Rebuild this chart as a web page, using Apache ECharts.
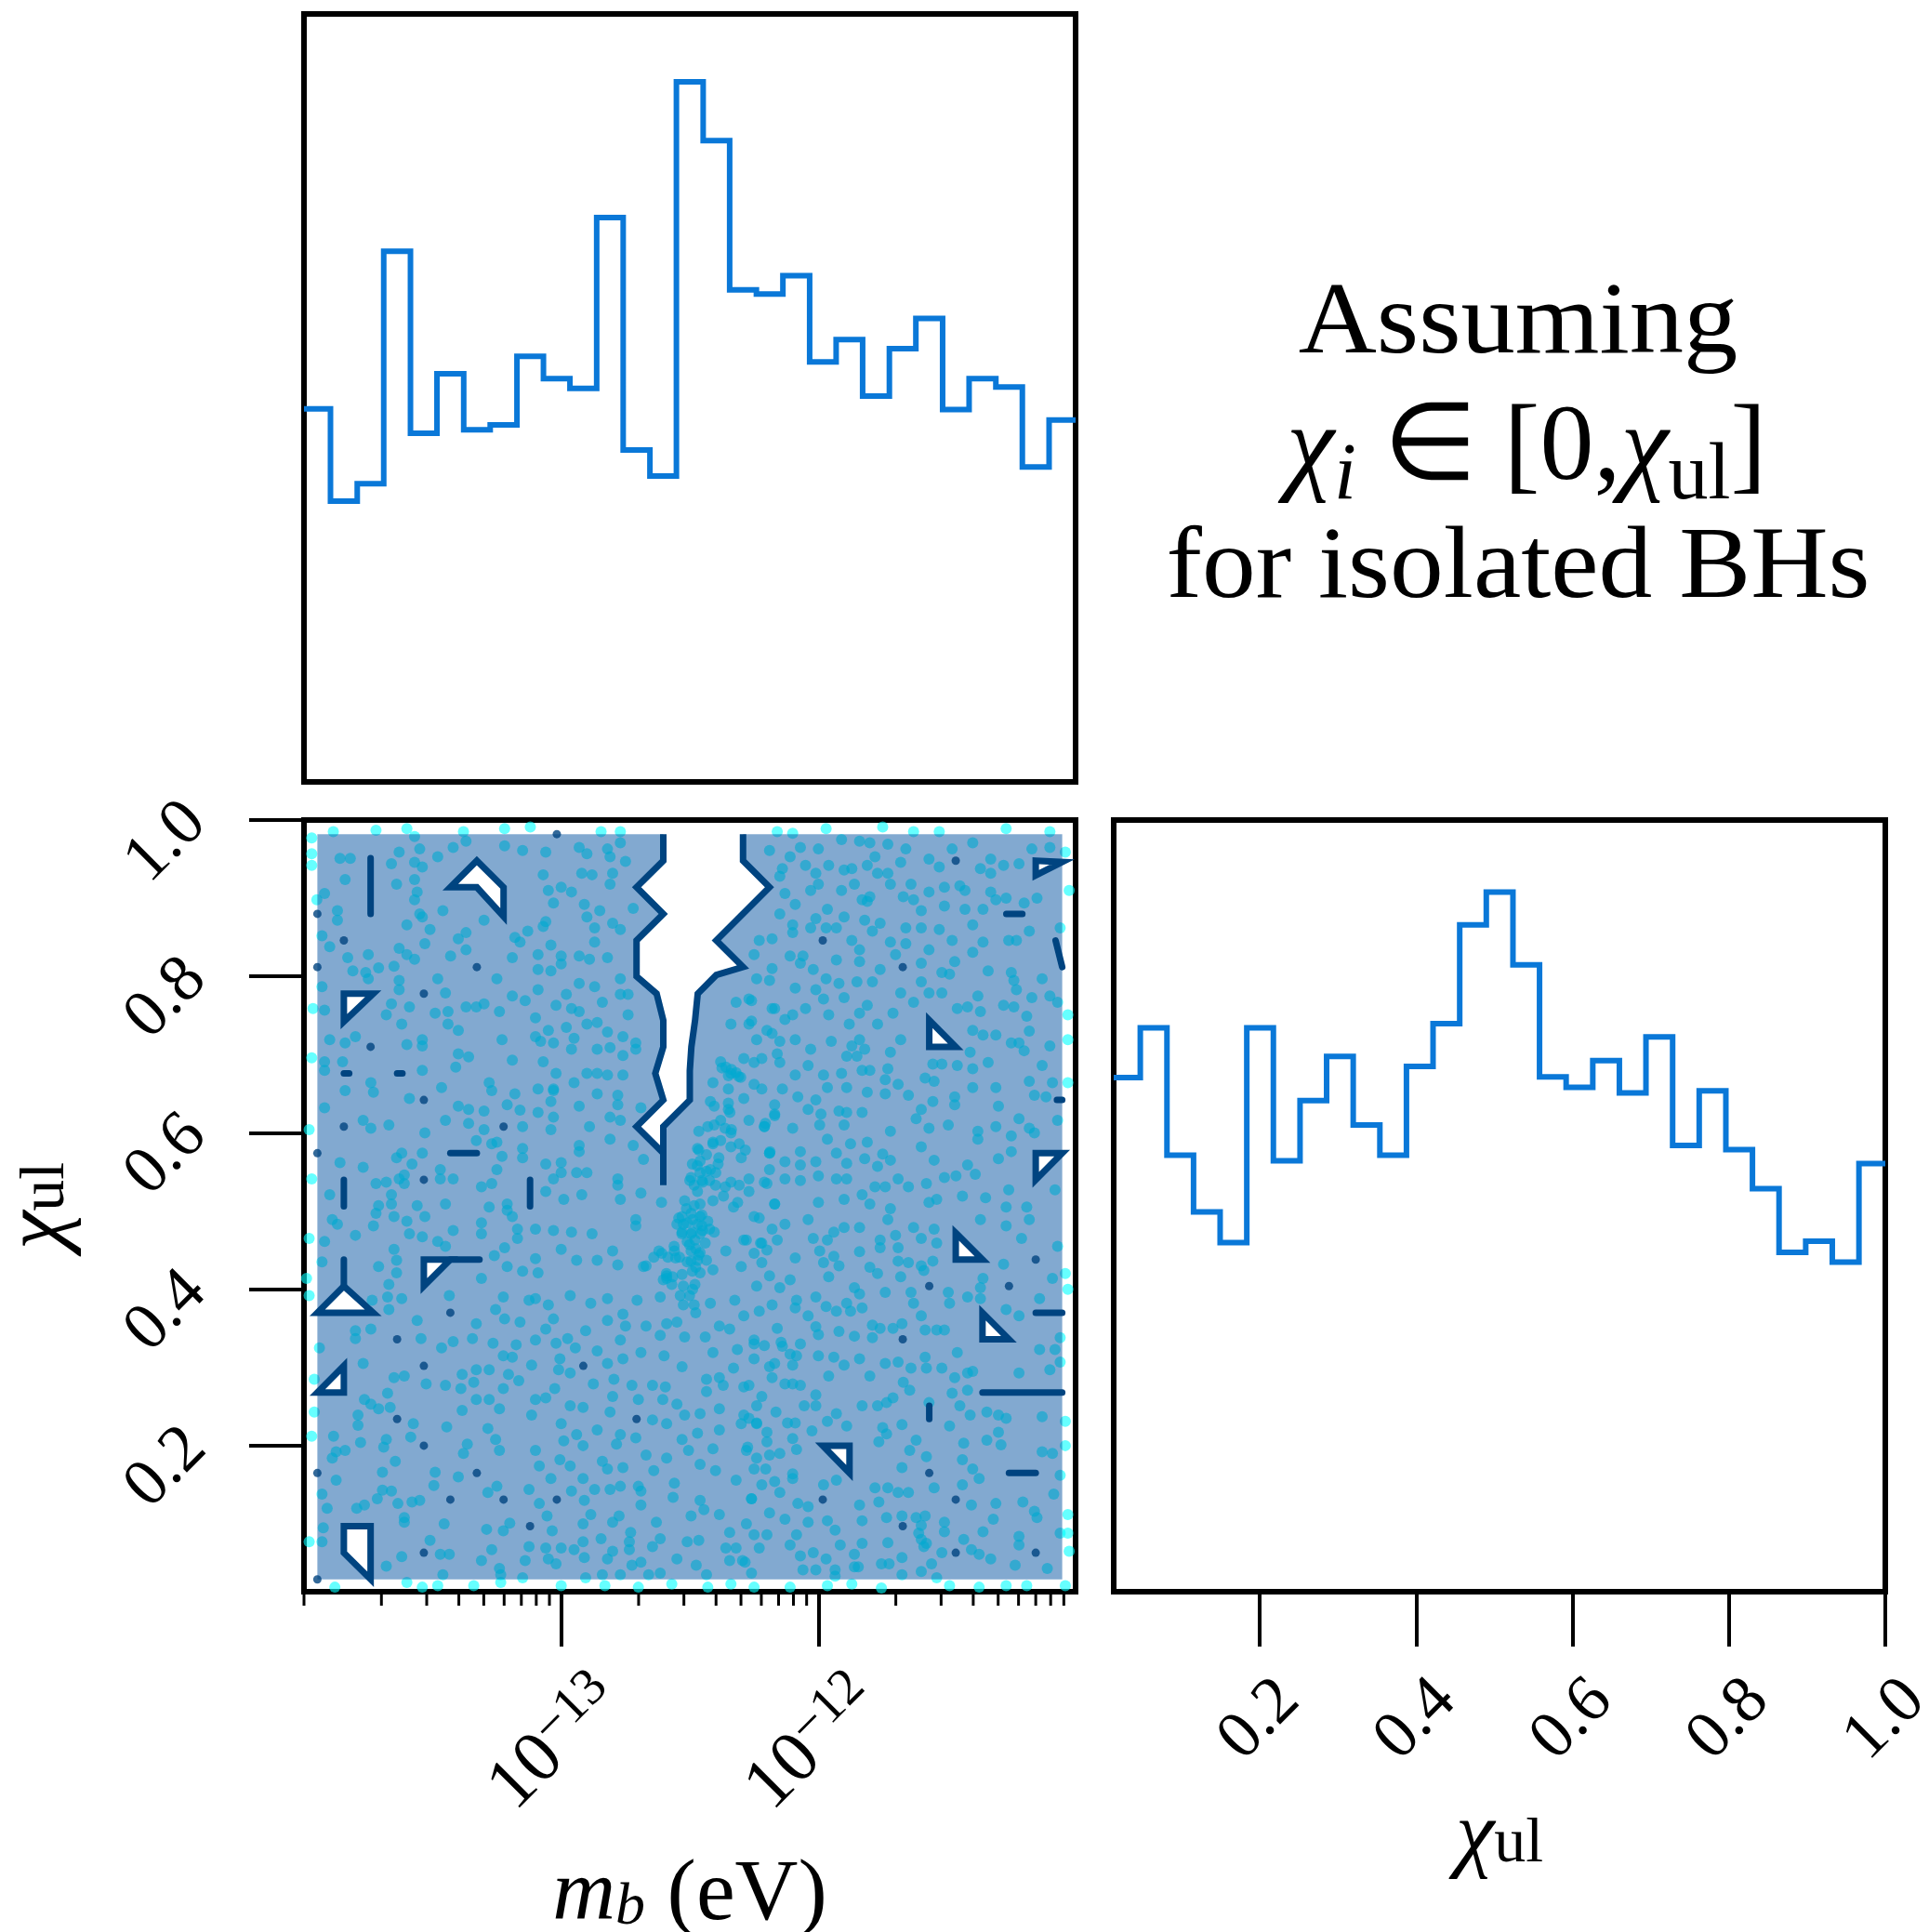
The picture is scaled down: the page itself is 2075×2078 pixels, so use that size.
<!DOCTYPE html>
<html><head><meta charset="utf-8">
<style>html,body{margin:0;background:#fff}#c{width:2075px;height:2078px}</style>
<script src="https://cdn.jsdelivr.net/npm/echarts@6/dist/echarts.min.js"></script>
</head><body><div id="c"></div>
<script>
const mbEdges=[-14,-13.897,-13.793,-13.69,-13.586,-13.483,-13.379,-13.276,-13.172,-13.069,-12.966,-12.862,-12.759,-12.655,-12.552,-12.448,-12.345,-12.241,-12.138,-12.034,-11.931,-11.828,-11.724,-11.621,-11.517,-11.414,-11.31,-11.207,-11.103,-11];
const mbHist=[.533,.401,.426,.758,.498,.583,.503,.510,.608,.576,.562,.806,.474,.437,1,.916,.703,.697,.723,.600,.632,.551,.619,.662,.532,.576,.564,.450,.517];
const chiEdges=[.0132,.0472,.0813,.1153,.1493,.1834,.2174,.2515,.2855,.3195,.3536,.3876,.4216,.4557,.4897,.5238,.5578,.5918,.6259,.6599,.6939,.728,.762,.7961,.8301,.8641,.8982,.9322,.9663,1];
const chiHist=[.735,.806,.624,.543,.499,.806,.616,.702,.765,.667,.624,.751,.812,.953,1,.896,.736,.721,.759,.713,.793,.638,.716,.632,.576,.485,.501,.471,.612];
const mbGrid=[-13.948,-13.845,-13.741,-13.638,-13.534,-13.431,-13.328,-13.224,-13.121,-13.017,-12.914,-12.810,-12.707,-12.603,-12.500,-12.397,-12.293,-12.190,-12.086,-11.983,-11.879,-11.776,-11.672,-11.569,-11.466,-11.362,-11.259,-11.155,-11.052];
const chiGrid=[.982,.948,.914,.880,.846,.812,.778,.744,.710,.676,.642,.608,.574,.540,.506,.472,.438,.404,.370,.336,.302,.268,.234,.200,.165,.131,.097,.063,.029];
const mbTicks=[1e-13,1e-12];
const mbMinorTicks=[1e-14,2e-14,3e-14,4e-14,5e-14,6e-14,7e-14,8e-14,9e-14,2e-13,3e-13,4e-13,5e-13,6e-13,7e-13,8e-13,9e-13,2e-12,3e-12,4e-12,5e-12,6e-12,7e-12,8e-12,9e-12];
const chiTicks=[.2,.4,.6,.8,1];
const filledRegion=[[0,0],[28,0],[28,28],[0,28]];
const notch=[[13,-0.15],[13,1],[12,2],[13,3],[12,4],[12,5.35],[12.75,6],[13,7],[13,8],[12.7,9],[13,10],[12,11],[13,12],[13,11],[14,10],[14,8.9],[14.06,8],[14.2,7],[14.3,6],[15,5.3],[16,5],[15,4],[17,2],[16,1],[16,-0.15]];
const notchEdge=[[13,0],[13,1],[12,2],[13,3],[12,4],[12,5.35],[12.75,6],[13,7],[13,8],[12.7,9],[13,10],[12,11],[13,12],[13,13.2],[13,11],[14,10],[14,8.9],[14.06,8],[14.2,7],[14.3,6],[15,5.3],[16,5],[15,4],[17,2],[16,1],[16,0]];
const holes=[
 [[6,1],[7,2],[7,3.1],[6,2],[5,2]],
 [[1,6],[2.1,6],[1,7.05]],
 [[4,16],[5,16],[4,17]],
 [[1,17],[2.1,18],[0,18]],
 [[1,20],[1,21],[0,21]],
 [[1,26],[2,26],[2,28],[1,27]],
 [[23,7],[24,8],[23,8]],
 [[27,12],[28,12],[27,13]],
 [[24,15],[25,16],[24,16]],
 [[25,18],[26,19],[25,19]],
 [[19,23],[20,23],[20,24]],
 [[27,1],[28,1.05],[27,1.55]]
];
const dashes=[
 [[2,.9],[2,3]],[[5,12],[6,12]],[[1,13],[1,14]],[[8,13],[8,14]],[[1,16],[1,17]],[[5,16],[6.1,16]],
 [[25.9,3],[26.5,3]],[[27.75,4],[28,5]],[[27.8,10],[28,10]],[[27,18],[28,18]],[[25,21],[28,21]],[[23,21.5],[23,22]],[[26,24],[27,24]],
 [[1,9],[1.2,9]],[[3,9],[3.2,9]]
];
const contourSpecks=[[0,3],[1,4],[0,5],[6,5],[4,6],[2,8],[4,10],[1,11],[7,11],[0,12],[4,13],[9,0],[5,18],[3,19],[4,20],[10,20],[3,22],[12,22],[4,23],[0,24],[6,24],[5,25],[7,25],[9,25],[8,26],[4,27],[0,28],[24,1],[19,4],[22,5],[27,16],[23,17],[26,17],[22,19],[23,24],[19,25],[24,25],[22,26],[24,27],[27,27]];

// samples: [log10(mb), chi_ul]
const samplesUpperLeft=[[-13.86,.951],[-13.82,.951],[-13.84,.924],[-13.66,.944],[-13.64,.918],[-13.63,.959],[-13.55,.963],[-13.57,.979],[-13.57,.946],[-13.54,.94],[-13.48,.953],[-13.42,.965],[-13.37,.973],[-13.57,.924],[-13.56,.908],[-13.57,.898],[-13.92,.906],[-13.95,.898],[-13.87,.884],[-13.87,.872],[-13.93,.852],[-13.9,.838],[-13.83,.824],[-13.75,.828],[-13.81,.807],[-13.76,.805],[-13.71,.811],[-13.65,.813],[-13.75,.797],[-13.93,.787],[-13.92,.757],[-13.9,.719],[-13.84,.715],[-13.8,.723],[-13.92,.691],[-13.85,.691],[-13.92,.68],[-13.84,.654],[-13.74,.664],[-13.73,.652],[-13.92,.632],[-13.77,.616],[-13.74,.606],[-13.67,.61],[-13.63,.836],[-13.6,.828],[-13.57,.822],[-13.53,.842],[-13.55,.88],[-13.54,.876],[-13.46,.884],[-13.6,.866],[-13.51,.86],[-13.4,.848],[-13.37,.856],[-13.3,.872],[-13.43,.826],[-13.37,.834],[-13.63,.795],[-13.63,.783],[-13.66,.765],[-13.68,.751],[-13.59,.761],[-13.62,.739],[-13.49,.753],[-13.44,.755],[-13.44,.739],[-13.4,.731],[-13.54,.719],[-13.54,.711],[-13.6,.713],[-13.4,.701],[-13.36,.697],[-13.41,.684],[-13.54,.68],[-13.48,.797],[-13.45,.779],[-13.25,.797],[-13.33,.761],[-13.37,.761],[-13.3,.765],[-13.24,.755],[-13.23,.719],[-13.19,.693],[-13.465,.658],[-13.28,.664],[-13.27,.654],[-13.59,.644],[-13.4,.634],[-13.36,.63],[-13.3,.628],[-13.45,.616],[-13.36,.612],[-13.53,.6],[-13.3,.604],[-13.33,.59],[-13.27,.586],[-13.15,.608],[-13.16,.629],[-13.09,.626],[-13.21,.636],[-13.18,.65],[-13.09,.656],[-13.03,.654],[-13.04,.64],[-13.03,.62],[-13.04,.604],[-13.22,.967],[-13.15,.961],[-13.06,.959],[-13.07,.93],[-13.05,.91],[-13,.914],[-12.96,.908],[-13.03,.894],[-12.92,.932],[-12.88,.93],[-12.91,.892],[-12.85,.884],[-12.9,.876],[-12.93,.965],[-12.9,.957],[-12.82,.963],[-12.81,.953],[-12.77,.971],[-12.75,.947],[-12.8,.932],[-12.81,.918],[-12.72,.887],[-13.06,.87],[-13.07,.864],[-13.13,.858],[-13.18,.85],[-13.16,.844],[-13.09,.828],[-13.04,.84],[-13.19,.824],[-13,.826],[-13,.816],[-12.93,.826],[-12.89,.822],[-12.82,.824],[-12.87,.862],[-12.87,.844],[-12.8,.868],[-12.77,.86],[-13.09,.809],[-13.04,.807],[-13.09,.783],[-12.93,.791],[-12.87,.787],[-12.84,.767],[-12.77,.797],[-12.77,.777],[-12.74,.777],[-12.98,.777],[-13.19,.775],[-13.14,.769],[-13.02,.763],[-12.96,.759],[-12.93,.755],[-13.1,.747],[-13.1,.723],[-13.05,.731],[-13.08,.717],[-13.03,.715],[-12.98,.735],[-12.9,.739],[-12.86,.741],[-12.82,.729],[-12.76,.723],[-12.74,.751],[-12.95,.721],[-12.96,.707],[-12.86,.707],[-12.81,.709],[-12.71,.715],[-12.71,.707],[-12.76,.699],[-12.9,.676],[-12.86,.676],[-12.82,.674],[-12.76,.674],[-13.02,.676],[-13.07,.691],[-12.95,.664],[-13.03,.656],[-12.78,.648],[-12.78,.636],[-12.86,.65],[-12.93,.634],[-12.69,.632],[-12.81,.62],[-12.77,.616],[-12.89,.608],[-12.81,.592],[-12.72,.584],[-12.68,.566],[-12.93,.584],[-12.93,.576],[-13,.562],[-13.06,.56],[-13.03,.541],[-13,.549],[-12.94,.549],[-12.9,.549],[-12.78,.541],[-12.78,.533],[-12.69,.523],[-12.99,.515],[-12.92,.521],[-12.77,.515],[-12.61,.511],[-13.86,.562],[-13.77,.556],[-13.64,.568],[-13.62,.574],[-13.54,.574],[-13.58,.56],[-13.61,.546],[-13.63,.541],[-13.61,.535],[-13.47,.553],[-13.47,.541],[-13.42,.541],[-13.31,.531],[-13.27,.535],[-13.25,.588],[-13.23,.57],[-13.25,.553],[-13.15,.58],[-13.15,.568],[-13.9,.521],[-13.72,.535],[-13.68,.537],[-13.66,.521],[-13.66,.509],[-13.71,.507],[-13.72,.497],[-13.56,.507],[-13.45,.509],[-13.53,.493],[-13.65,.493],[-13.6,.487],[-13.89,.489],[-13.87,.483],[-13.73,.481],[-13.8,.469],[-13.59,.471],[-13.54,.467],[-13.42,.475],[-13.48,.461],[-13.45,.455],[-13.31,.485],[-13.31,.471],[-13.28,.505],[-13.21,.509],[-13.21,.501],[-13.19,.493],[-13.06,.525],[-13.92,.461],[-13.93,.435],[-13.71,.429],[-13.65,.451],[-13.64,.437],[-13.64,.421],[-13.67,.406],[-13.31,.414],[-13.26,.443],[-13.22,.453],[-13.17,.465],[-13.17,.477],[-13.1,.477],[-13.03,.475],[-13.1,.439],[-13.21,.429],[-13.15,.423],[-13.09,.421],[-13,.451],[-12.96,.473],[-12.88,.471],[-12.94,.437],[-12.8,.449],[-12.71,.489],[-12.71,.481],[-12.86,.437],[-12.68,.429],[-12.59,.417],[-12.78,.431],[-12.64,.441],[-12.62,.449],[-12.56,.449]];
const samplesCore=[[-12.23,.846],[-12.25,.828],[-12.19,.961],[-12.18,.81],[-12.24,.797],[-12.32,.767],[-12.26,.769],[-12.18,.759],[-12.34,.739],[-12.26,.743],[-12.24,.719],[-12.18,.727],[-12.38,.691],[-12.34,.676],[-12.31,.672],[-12.36,.684],[-12.29,.695],[-12.22,.695],[-12.16,.701],[-12.41,.664],[-12.35,.656],[-12.42,.64],[-12.35,.63],[-12.29,.644],[-12.22,.656],[-12.17,.636],[-12.43,.608],[-12.38,.616],[-12.34,.6],[-12.27,.616],[-12.21,.608],[-12.47,.58],[-12.41,.588],[-12.34,.582],[-12.3,.568],[-12.19,.574],[-12.49,.56],[-12.46,.564],[-12.42,.553],[-12.39,.56],[-12.46,.549],[-12.5,.539],[-12.45,.537],[-12.4,.533],[-12.34,.537],[-12.27,.525],[-12.21,.537],[-12.47,.525],[-12.52,.513],[-12.46,.509],[-12.41,.513],[-12.33,.505],[-12.53,.493],[-12.495,.497],[-12.46,.493],[-12.55,.483],[-12.51,.485],[-12.47,.483],[-12.43,.487],[-12.53,.473],[-12.49,.473],[-12.45,.475],[-12.405,.473],[-12.51,.461],[-12.48,.463],[-12.44,.459],[-12.495,.449],[-12.46,.447],[-12.51,.435],[-12.47,.437],[-12.435,.437],[-12.585,.441],[-12.54,.441],[-12.49,.423],[-12.46,.421],[-12.53,.419],[-12.41,.425],[-12.59,.414],[-12.57,.406],[-12.48,.406],[-12.29,.463],[-12.225,.459],[-12.18,.477],[-12.36,.449],[-12.3,.429],[-12.19,.417],[-12.25,.493],[-12.17,.509]];
const samplesDense=[[-12.375,.683],[-12.338,.681],[-12.302,.671],[-12.35,.673],[-12.32,.677],[-12.405,.634],[-12.35,.638],[-12.344,.626],[-12.405,.61],[-12.363,.606],[-12.338,.604],[-12.465,.602],[-12.38,.59],[-12.41,.586],[-12.308,.586],[-12.465,.578],[-12.435,.572],[-12.387,.568],[-12.284,.578],[-12.188,.576],[-12.206,.612],[-12.17,.624],[-12.471,.558],[-12.435,.551],[-12.399,.549],[-12.495,.543],[-12.453,.539],[-12.423,.539],[-12.483,.533],[-12.369,.519],[-12.314,.511],[-12.308,.533],[-12.362,.531],[-12.543,.491],[-12.513,.503],[-12.483,.507],[-12.453,.495],[-12.525,.483],[-12.489,.489],[-12.453,.481],[-12.531,.471],[-12.495,.471],[-12.459,.471],[-12.423,.477],[-12.501,.457],[-12.477,.452],[-12.465,.444],[-12.495,.436],[-12.477,.428],[-12.591,.42],[-12.603,.412],[-12.567,.416],[-12.555,.44],[-12.561,.455],[-12.609,.446],[-12.67,.43],[-12.525,.404],[-12.489,.4],[-12.537,.392],[-12.501,.392],[-12.525,.38],[-12.483,.38],[-12.477,.37]];
const samplesUpperRight=[[-12.07,.965],[-12,.963],[-11.91,.975],[-11.84,.973],[-11.8,.971],[-11.73,.969],[-11.66,.963],[-12.11,.953],[-12.05,.942],[-12.14,.938],[-12.15,.928],[-12.01,.932],[-11.96,.942],[-11.87,.938],[-11.9,.936],[-11.81,.942],[-11.78,.953],[-11.77,.932],[-11.73,.932],[-11.72,.918],[-11.68,.946],[-11.57,.95],[-11.53,.94],[-11.48,.963],[-11.4,.971],[-11.37,.938],[-11.33,.932],[-11.33,.95],[-11.28,.942],[-11.22,.944],[-11.17,.963],[-11.1,.965],[-12.13,.906],[-12.03,.91],[-12,.918],[-11.91,.91],[-11.86,.918],[-11.83,.898],[-11.8,.902],[-11.81,.896],[-11.67,.902],[-11.63,.898],[-11.64,.918],[-11.57,.908],[-11.51,.914],[-11.45,.916],[-11.43,.91],[-11.6,.884],[-11.51,.89],[-11.43,.886],[-11.36,.886],[-11.31,.898],[-11.27,.9],[-11.2,.894],[-11.15,.9],[-11.33,.908],[-12.15,.88],[-12.09,.892],[-11.965,.886],[-12.1,.866],[-12.1,.856],[-12.01,.874],[-12.03,.862],[-11.97,.862],[-11.93,.862],[-11.9,.876],[-11.82,.872],[-11.76,.868],[-11.79,.858],[-11.66,.862],[-11.6,.862],[-11.53,.86],[-11.4,.866],[-12.18,.848],[-11.87,.846],[-11.84,.834],[-11.72,.844],[-11.66,.842],[-11.7,.828],[-11.57,.834],[-11.48,.846],[-11.36,.844],[-11.26,.846],[-11.23,.846],[-11.18,.858],[-11.06,.862],[-12.11,.826],[-12.06,.826],[-12.07,.817],[-11.93,.821],[-11.84,.819],[-11.4,.831],[-11.47,.819],[-11.6,.817],[-11.76,.809],[-12.02,.809],[-11.34,.807],[-11.25,.805],[-11.24,.795],[-11.13,.797],[-11.52,.805],[-11.49,.803],[-12.19,.795],[-12.09,.785],[-12.01,.783],[-11.97,.797],[-11.92,.791],[-11.85,.793],[-11.79,.793],[-11.6,.793],[-12.27,.771],[-11.98,.771],[-11.9,.773],[-11.68,.779],[-11.57,.779],[-11.52,.779],[-11.38,.775],[-11.23,.783],[-11.17,.773],[-11.1,.775],[-11.07,.767],[-11.63,.767],[-12.17,.759],[-12.05,.759],[-12.13,.745],[-12.1,.751],[-11.96,.751],[-11.81,.763],[-11.84,.753],[-11.88,.739],[-11.71,.753],[-11.77,.739],[-11.46,.759],[-11.42,.761],[-11.37,.755],[-11.28,.763],[-11.24,.761],[-11.19,.749],[-12.27,.739],[-12.2,.731],[-12.15,.717],[-12.09,.719],[-12.03,.707],[-11.95,.717],[-11.87,.711],[-11.84,.719],[-11.82,.707],[-11.68,.719],[-11.72,.703],[-11.4,.731],[-11.36,.725],[-11.31,.725],[-11.18,.73],[-11.25,.715],[-11.22,.715],[-11.2,.705],[-11.1,.711],[-11.41,.703],[-12.25,.69],[-12.15,.69],[-12.04,.686],[-11.89,.698],[-11.85,.698],[-11.73,.682],[-11.555,.688],[-11.52,.688],[-11.46,.686],[-11.4,.682],[-11.34,.69],[-11.13,.686],[-12.09,.674],[-11.98,.674],[-11.91,.676],[-11.83,.68],[-11.8,.68],[-12.25,.662],[-12.14,.656],[-11.69,.662],[-11.74,.668],[-11.585,.67],[-11.55,.666],[-11.4,.658],[-11.31,.658],[-11.18,.666],[-11.09,.664],[-11.965,.658],[-11.89,.658],[-11.81,.652],[-11.74,.65],[-11.65,.648],[-12.08,.646],[-12.01,.642],[-11.47,.646],[-11.47,.636],[-11.16,.648],[-11.115,.646],[-11.555,.64],[-12.04,.63],[-11.92,.628],[-11.89,.626],[-11.83,.626],[-11.6,.63],[-12.17,.622],[-11.99,.624],[-11.3,.634],[-11.22,.618],[-11.62,.618],[-12.21,.608],[-12.1,.606],[-11.995,.61],[-11.9,.61],[-11.72,.602],[-11.57,.606],[-11.495,.61],[-11.31,.608],[-11.18,.606],[-11.07,.616],[-11.16,.6],[-11.38,.602],[-11.38,.592],[-11.25,.596],[-11.965,.592],[-11.875,.586],[-11.81,.588],[-11.6,.582],[-12.19,.574],[-12.07,.576],[-11.93,.574],[-11.75,.573],[-11.25,.576],[-11.3,.567],[-12.13,.563],[-12.01,.563],[-11.89,.561],[-11.82,.567],[-11.72,.565],[-11.55,.565],[-11.42,.559],[-12.07,.559],[-12.19,.553],[-11.77,.557],[-12,.545],[-11.39,.547],[-11.465,.545],[-11.51,.543],[-12.07,.539],[-12.13,.541],[-12.2,.535],[-11.93,.541],[-11.89,.541],[-11.69,.541],[-12.27,.541],[-11.26,.527],[-11.08,.527],[-11.58,.535],[-11.65,.531],[-11.78,.531],[-11.74,.531],[-11.83,.521],[-11.9,.515],[-12,.511],[-12.17,.509],[-11.8,.509],[-11.54,.515],[-11.57,.511],[-11.44,.519],[-11.35,.517],[-11.19,.505],[-11.72,.503],[-11.27,.505]];
const samplesLowerRight=[[-12.23,.491],[-12.13,.483],[-12.04,.489],[-11.94,.473],[-11.9,.479],[-11.84,.479],[-11.73,.489],[-11.63,.479],[-11.55,.477],[-11.37,.489],[-11.27,.481],[-11.18,.489],[-11.21,.465],[-11.07,.455],[-12.28,.463],[-12.22,.459],[-12.16,.463],[-12.02,.465],[-11.965,.463],[-11.76,.463],[-11.7,.469],[-11.6,.465],[-11.54,.459],[-11.69,.453],[-12.25,.446],[-12.2,.45],[-12.09,.44],[-11.995,.449],[-11.84,.448],[-11.76,.453],[-12.22,.434],[-11.98,.434],[-11.94,.442],[-11.92,.43],[-11.69,.436],[-11.65,.434],[-11.6,.43],[-11.555,.436],[-11.28,.432],[-11.8,.428],[-11.77,.42],[-11.59,.424],[-11.68,.416],[-11.96,.416],[-11.36,.414],[-11.37,.402],[-11.09,.414],[-12.24,.404],[-12.15,.402],[-12.11,.412],[-11.86,.402],[-11.84,.394],[-11.74,.396],[-11.64,.396],[-11.495,.396],[-11.49,.382],[-11.63,.382],[-11.42,.39],[-11.37,.388],[-11.14,.388],[-12.18,.38],[-12.085,.386],[-12.01,.39],[-12.09,.376],[-11.97,.378],[-11.89,.382],[-11.875,.372],[-11.83,.376],[-12.23,.372],[-12.04,.366],[-11.93,.372],[-11.6,.366],[-11.27,.374],[-11.22,.366],[-12.01,.352],[-11.79,.354],[-11.675,.356],[-11.71,.35],[-11.76,.35],[-11.585,.348],[-11.54,.348],[-11.51,.348],[-12.16,.35],[-11.92,.346],[-12,.342],[-11.86,.34],[-11.79,.338],[-12.145,.332],[-12.25,.33],[-12.21,.328],[-12.07,.33],[-12.14,.327],[-11.06,.338],[-11.14,.323],[-11.08,.323],[-11.46,.319],[-12.11,.317],[-12.085,.315],[-12,.315],[-11.94,.313],[-12.25,.311],[-11.84,.311],[-12.17,.305],[-12.19,.301],[-12.1,.303],[-11.9,.303],[-11.74,.305],[-11.69,.307],[-11.585,.313],[-11.06,.307],[-11.58,.299],[-11.64,.299],[-11.52,.299],[-11.4,.295],[-11.42,.293],[-11.1,.297],[-11.22,.293],[-12.18,.287],[-11.96,.289],[-11.8,.289],[-11.47,.287],[-12.13,.279],[-12.1,.279],[-12.27,.277],[-12.07,.277],[-11.67,.281],[-11.645,.271],[-12.22,.263],[-12.01,.265],[-11.42,.271],[-11.48,.267],[-12.01,.251],[-12.055,.251],[-12.24,.251],[-11.83,.251],[-11.77,.251],[-11.735,.255],[-11.71,.261],[-11.57,.255],[-11.45,.251],[-12.165,.243],[-11.93,.241],[-11.41,.239],[-11.345,.243],[-11.3,.239],[-11.27,.235],[-11.13,.237],[-12.27,.235],[-12.12,.229],[-12.24,.229],[-11.965,.231],[-12.09,.229],[-11.89,.225],[-11.675,.227],[-11.49,.225],[-11.04,.231],[-12.2,.217],[-12.025,.219],[-11.75,.223],[-11.735,.215],[-11.3,.217],[-12.1,.209],[-12.2,.205],[-11.765,.205],[-11.62,.207],[-11.435,.203],[-11.345,.207],[-11.29,.201],[-12.28,.194],[-12.085,.195],[-11.645,.194],[-12.19,.188],[-12.15,.19],[-11.58,.186],[-11.13,.192],[-11.09,.19],[-11.44,.182],[-11.675,.172],[-12.25,.17],[-12.205,.17],[-11.4,.17],[-12.1,.164],[-11.375,.158],[-11.06,.162],[-12.1,.158],[-11.93,.156],[-11.98,.15],[-12.17,.154],[-12.22,.15],[-11.44,.15],[-11.78,.146],[-11.73,.146],[-11.69,.14],[-11.65,.14],[-11.55,.146],[-12.15,.14],[-11.085,.138],[-12.26,.132],[-11.31,.126],[-11.205,.128],[-11.405,.124],[-12.08,.126],[-12.04,.122],[-11.84,.124],[-11.765,.128],[-12.19,.114],[-12.13,.106],[-12.04,.102],[-11.965,.104],[-11.83,.104],[-11.735,.108],[-11.675,.11],[-11.62,.108],[-11.585,.11],[-11.16,.116],[-11.15,.108],[-11.32,.106],[-11.51,.102],[-11.6,.098],[-11.51,.09],[-11.61,.088],[-11.935,.092],[-12.25,.086],[-12.2,.086],[-11.36,.09],[-11.22,.084],[-11.06,.088],[-12.085,.086],[-11.435,.08],[-11.73,.076],[-11.6,.08],[-11.58,.075],[-11.83,.075],[-11.22,.073],[-11.59,.071],[-11.915,.073],[-12.11,.073],[-12.23,.069],[-11.405,.067],[-11.86,.061],[-12.02,.063],[-12.07,.059],[-11.52,.063],[-11.675,.057],[-11.97,.055],[-11.375,.061],[-11.33,.055],[-12.285,.051],[-11.755,.049],[-11.725,.049],[-11.56,.049],[-11.845,.045],[-11.235,.047],[-12.06,.041],[-11.935,.041],[-12.01,.041],[-11.86,.045],[-11.6,.039],[-11.11,.043],[-11.675,.035],[-11.54,.031],[-11.935,.033]];
const samplesLowerLeft=[[-13.735,.386],[-13.675,.39],[-13.62,.388],[-13.435,.392],[-13.67,.374],[-13.225,.39],[-13.255,.374],[-13.125,.386],[-13.1,.388],[-13.05,.38],[-12.965,.392],[-12.885,.382],[-12.82,.388],[-12.705,.386],[-12.615,.39],[-12.42,.382],[-12.325,.386],[-13.56,.36],[-13.33,.356],[-13.22,.362],[-13.16,.358],[-13.03,.362],[-13.06,.349],[-12.905,.347],[-12.82,.36],[-12.75,.353],[-12.67,.353],[-12.76,.368],[-12.59,.356],[-12.55,.358],[-12.385,.353],[-12.345,.349],[-12.29,.366],[-13.8,.347],[-13.8,.337],[-13.74,.349],[-13.545,.337],[-13.42,.333],[-13.465,.325],[-13.345,.337],[-13.265,.331],[-13.175,.329],[-13.1,.335],[-13.02,.331],[-12.975,.337],[-12.945,.325],[-12.77,.335],[-12.69,.319],[-12.86,.321],[-12.615,.341],[-12.6,.315],[-12.52,.339],[-12.44,.339],[-12.41,.319],[-12.315,.323],[-12.25,.335],[-13.94,.325],[-13.77,.305],[-13.225,.315],[-13.19,.313],[-13.115,.303],[-13.005,.311],[-12.82,.305],[-12.76,.311],[-12.53,.301],[-12.33,.299],[-13.33,.297],[-13.28,.297],[-13.385,.291],[-13.205,.291],[-13.01,.297],[-12.965,.293],[-13.65,.287],[-13.61,.289],[-13.525,.279],[-13.45,.277],[-13.39,.273],[-13.34,.281],[-13.165,.283],[-13.225,.273],[-12.875,.279],[-12.795,.285],[-12.725,.277],[-12.645,.277],[-12.595,.275],[-12.435,.285],[-12.385,.287],[-12.435,.269],[-12.37,.277],[-12.29,.275],[-13.675,.267],[-13.025,.273],[-13.33,.259],[-13.28,.259],[-13.1,.259],[-13.06,.261],[-12.8,.263],[-12.7,.259],[-12.605,.259],[-12.55,.253],[-12.965,.251],[-12.915,.249],[-13.765,.259],[-13.74,.253],[-13.71,.247],[-13.665,.249],[-13.385,.245],[-13.24,.247],[-13.115,.239],[-12.81,.243],[-12.52,.239],[-12.46,.241],[-12.385,.247],[-12.29,.239],[-13.79,.239],[-13.96,.243],[-13.79,.226],[-13.575,.228],[-13.445,.224],[-12.645,.233],[-13,.228],[-12.59,.228],[-12.3,.228],[-12.24,.228],[-12.86,.22],[-12.77,.214],[-12.71,.21],[-13.285,.222],[-12.94,.214],[-13.885,.212],[-13.585,.211],[-13.255,.208],[-12.53,.208],[-12.385,.22],[-12.47,.216],[-13.78,.204],[-13.68,.208],[-13.69,.198],[-12.99,.206],[-12.785,.202],[-12.275,.198],[-13.365,.202],[-13.24,.194],[-13.875,.192],[-13.84,.194],[-13.38,.19],[-13.89,.184],[-13.1,.194],[-12.915,.2],[-12.67,.188],[-12.59,.184],[-12.505,.194],[-12.41,.196],[-12.24,.184],[-13.645,.18],[-13.085,.174],[-12.84,.18],[-13.005,.182],[-12.965,.174],[-12.76,.172],[-12.82,.17],[-12.64,.168],[-12.46,.176],[-12.4,.168],[-13.49,.166],[-13.695,.166],[-13.875,.156],[-13.4,.16],[-13.04,.158],[-12.915,.158],[-12.32,.156],[-12.7,.148],[-12.77,.148],[-12.56,.152],[-13.495,.149],[-13.25,.148],[-13.285,.14],[-13.695,.143],[-13.66,.142],[-13.125,.144],[-12.96,.142],[-12.87,.144],[-12.81,.144],[-12.69,.142],[-12.565,.134],[-12.46,.13],[-12.26,.132],[-13.93,.138],[-13.715,.132],[-13.55,.13],[-13.58,.128],[-13.635,.126],[-12.91,.13],[-12.69,.124],[-13.91,.12],[-13.795,.12],[-13.765,.124],[-13.085,.126],[-12.445,.118],[-12.775,.11],[-12.495,.11],[-12.885,.112],[-12.385,.112],[-13.055,.11],[-13.61,.108],[-13.61,.102],[-12.63,.102],[-12.915,.1],[-13.455,.1],[-13.925,.095],[-13.29,.093],[-13.225,.091],[-13.2,.101],[-13.035,.091],[-12.8,.102],[-12.28,.1],[-12.345,.089],[-12.73,.089],[-12.615,.081],[-13.93,.077],[-13.51,.079],[-12.845,.081],[-12.915,.077],[-12.51,.077],[-12.465,.079],[-12.735,.077],[-13.125,.071],[-13.06,.069],[-13,.069],[-12.95,.067],[-12.645,.071],[-12.36,.069],[-12.32,.069],[-13.27,.067],[-13.47,.061],[-13.435,.061],[-13.62,.058],[-12.8,.065],[-12.735,.067],[-12.91,.057],[-13.05,.055],[-13.02,.049],[-13.14,.053],[-13.31,.053],[-12.55,.055],[-12.345,.053],[-12.295,.053],[-12.82,.055],[-13.68,.046],[-13.24,.043],[-12.725,.047],[-12.69,.051],[-12.475,.047],[-12.615,.037],[-13.46,.035],[-13.235,.035],[-13.15,.031],[-12.905,.031],[-12.84,.035],[-12.77,.035],[-12.66,.035],[-12.435,.035],[-12.26,.037]];
const samplesEdge=[[-13.97,.977],[-13.97,.957],[-13.97,.942],[-13.965,.759],[-13.97,.696],[-13.98,.604],[-13.97,.541],[-13.98,.465],[-13.99,.414],[-13.886,.985],[-13.72,.987],[-13.6,.989],[-13.38,.985],[-13.22,.989],[-13.12,.991],[-12.845,.985],[-12.77,.985],[-12.16,.985],[-12.1,.983],[-11.97,.989],[-11.75,.991],[-11.63,.985],[-11.53,.985],[-11.27,.989],[-11.1,.985],[-11.04,.959],[-11.025,.91],[-11.03,.751],[-11.03,.719],[-11.03,.664],[-11.04,.42],[-11.03,.4],[-11.04,.2],[-11.03,.112],[-11.03,.088],[-11.025,.065],[-11.04,.021],[-11.19,.021],[-11.27,.021],[-11.375,.019],[-11.49,.021],[-11.755,.018],[-11.87,.023],[-11.965,.021],[-12.11,.019],[-12.25,.019],[-13.88,.019],[-13.6,.025],[-13.54,.019],[-13.48,.021],[-13.34,.021],[-13.235,.025],[-13,.021],[-12.83,.021],[-12.7,.019],[-12.57,.023],[-12.43,.019],[-12.34,.023],[-13.98,.392],[-13.96,.285],[-13.97,.212],[-13.98,.077]];
const samples=[...samplesUpperLeft,...samplesCore,...samplesDense,...samplesUpperRight,...samplesLowerRight,...samplesLowerLeft,...samplesEdge];

const LG=i=>{const a=Math.floor(i),b=Math.min(a+1,28),t=i-a;return mbGrid[Math.max(a,0)]*(1-t)+mbGrid[b]*t;};
const CH=j=>{if(j<0)return chiGrid[0]+(chiGrid[0]-chiGrid[1])*(-j);const a=Math.floor(j),b=Math.min(a+1,28),t=j-a;return chiGrid[a]*(1-t)+chiGrid[b]*t;};
const nodeCoord=(api,p)=>api.coord([Math.pow(10,LG(p[0])),CH(p[1])]);
const INK='#004480',FONT='"Liberation Serif"';
const stepData=(edges,vals,f)=>edges.map((e,i)=>[f(e),vals[Math.min(i,vals.length-1)]]);
const shapeRow=(pts,idx)=>[Math.pow(10,LG(pts[0][0])),CH(pts[0][1]),idx];
const chiMin=.0132;

const axisBase={axisLine:{show:false},splitLine:{show:false},minorTick:{show:false}};
const tickStyle={length:59,lineStyle:{width:4,color:'#000'}};
const labelBase={color:'#000',fontFamily:FONT};
const chiName={fontFamily:FONT,rich:{x:{fontSize:94,fontStyle:'italic',fontFamily:FONT,color:'#000'},s:{fontSize:68,fontFamily:FONT,color:'#000',padding:[16,0,0,0]}}};
const gridBase={show:true,borderColor:'#000',borderWidth:6,backgroundColor:'transparent',outerBoundsMode:'none',containLabel:false};

const option={
 animation:false,backgroundColor:'#fff',
 grid:[
  {...gridBase,left:327,top:15,width:830,height:826},
  {...gridBase,left:327,top:882,width:830,height:830},
  {...gridBase,left:1198,top:882,width:830,height:830}
 ],
 xAxis:[
  {...axisBase,gridIndex:0,type:'log',logBase:10,min:1e-14,max:1e-11,axisTick:{show:false},axisLabel:{show:false}},
  {...axisBase,gridIndex:1,type:'log',logBase:10,min:1e-14,max:1e-11,
   axisTick:{show:true,...tickStyle,customValues:mbTicks},
   axisLabel:{...labelBase,customValues:mbTicks,rotate:45,margin:164,align:'center',verticalAlign:'middle',padding:[0,8,8,0],
    formatter:v=>`{b|10}{e|−${Math.abs(Math.round(Math.log10(v)))}}`,
    rich:{b:{fontSize:78,fontFamily:FONT,color:'#000'},e:{fontSize:56,fontFamily:FONT,color:'#000',padding:[0,0,32,0]}}},
   name:'{m|m}{s|b}{n| (eV)}',nameLocation:'middle',nameGap:280,
   nameTextStyle:{fontFamily:FONT,rich:{m:{fontSize:94,fontStyle:'italic',fontFamily:FONT,color:'#000'},s:{fontSize:64,fontStyle:'italic',fontFamily:FONT,color:'#000',padding:[26,0,0,0]},n:{fontSize:94,fontFamily:FONT,color:'#000'}}}},
  {...axisBase,gridIndex:2,type:'value',min:chiMin,max:1,
   axisTick:{show:true,...tickStyle,customValues:chiTicks},
   axisLabel:{...labelBase,fontSize:72,customValues:chiTicks,rotate:45,margin:138,align:'center',verticalAlign:'middle',formatter:v=>v.toFixed(1)},
   name:'{x|χ}{s|ul}',nameLocation:'middle',nameGap:217,nameTextStyle:chiName}
 ],
 yAxis:[
  {...axisBase,gridIndex:0,type:'value',min:0,max:1.097,axisTick:{show:false},axisLabel:{show:false}},
  {...axisBase,gridIndex:1,type:'value',min:chiMin,max:1,
   axisTick:{show:true,...tickStyle,customValues:chiTicks},
   axisLabel:{...labelBase,fontSize:72,customValues:chiTicks,rotate:45,margin:124,align:'center',verticalAlign:'middle',padding:[68,68,0,0],formatter:v=>v.toFixed(1)},
   name:'{x|χ}{s|ul}',nameLocation:'middle',nameGap:238,nameRotate:90,nameTextStyle:chiName},
  {...axisBase,gridIndex:2,type:'value',min:0,max:1.103,axisTick:{show:false},axisLabel:{show:false}}
 ],
 graphic:[
  {type:'text',x:1633,y:350,scaleX:1.05,style:{text:'Assuming',font:'111px "Liberation Serif"',fill:'#000',textAlign:'center',textVerticalAlign:'middle'}},
  {type:'text',x:1642,y:485,style:{text:'{x|χ}{i|i} ∈ [0,{x|χ}{u|ul}]',fill:'#000',textAlign:'center',textVerticalAlign:'middle',font:'116px "Liberation Serif"',
    rich:{x:{font:'italic 116px "Liberation Serif"',fill:'#000'},i:{font:'italic 86px "Liberation Serif"',fill:'#000',padding:[56,0,0,0]},u:{font:'86px "Liberation Serif"',fill:'#000',padding:[56,0,0,0]}}}},
  {type:'text',x:1633,y:613,scaleX:1.05,style:{text:'for isolated BHs',font:'110px "Liberation Serif"',fill:'#000',textAlign:'center',textVerticalAlign:'middle'}}
 ],
 series:[
  {name:'mb histogram',type:'line',xAxisIndex:0,yAxisIndex:0,step:'end',showSymbol:false,silent:true,lineStyle:{color:'#0a78d8',width:6,join:'miter'},
   data:stepData(mbEdges,mbHist,e=>Math.pow(10,e))},
  {name:'chi histogram',type:'line',xAxisIndex:2,yAxisIndex:2,step:'end',showSymbol:false,silent:true,lineStyle:{color:'#0a78d8',width:6,join:'miter'},
   data:stepData(chiEdges,chiHist,e=>e)},
  {name:'samples',type:'scatter',xAxisIndex:1,yAxisIndex:1,z:1,symbolSize:12,silent:true,large:false,itemStyle:{color:'#00ffff',opacity:.6},
   data:samples.map(p=>[Math.pow(10,p[0]),p[1]])},
  {name:'contour fill',type:'custom',xAxisIndex:1,yAxisIndex:1,z:2,silent:true,data:[shapeRow(filledRegion,0)],
   renderItem:(params,api)=>({type:'polygon',shape:{points:filledRegion.map(p=>nodeCoord(api,p))},style:{fill:'#0050a0',opacity:.49}})},
  {name:'central gap',type:'custom',xAxisIndex:1,yAxisIndex:1,z:3,silent:true,data:[shapeRow(notch,0)],
   renderItem:(params,api)=>({type:'group',children:[
     {type:'polygon',shape:{points:notch.map(p=>nodeCoord(api,p))},style:{fill:'#fff'}},
     {type:'polyline',shape:{points:notchEdge.map(p=>nodeCoord(api,p))},style:{fill:null,stroke:INK,lineWidth:7,lineJoin:'miter'}}]})},
  {name:'contour holes',type:'custom',xAxisIndex:1,yAxisIndex:1,z:3,silent:true,data:holes.map((h,i)=>shapeRow(h,i)),
   renderItem:(params,api)=>({type:'polygon',shape:{points:holes[api.value(2)].map(p=>nodeCoord(api,p))},style:{fill:'#fff',stroke:INK,lineWidth:7,lineJoin:'miter'}})},
  {name:'contour dashes',type:'custom',xAxisIndex:1,yAxisIndex:1,z:3,silent:true,data:dashes.map((h,i)=>shapeRow(h,i)),
   renderItem:(params,api)=>({type:'polyline',shape:{points:dashes[api.value(2)].map(p=>nodeCoord(api,p))},style:{fill:null,stroke:INK,lineWidth:7,lineCap:'round'}})},
  {name:'contour specks',type:'scatter',xAxisIndex:1,yAxisIndex:1,z:4,symbolSize:9,silent:true,itemStyle:{color:INK},
   data:contourSpecks.map(p=>[Math.pow(10,LG(p[0])),CH(p[1])])},
  {name:'minor ticks',type:'custom',xAxisIndex:1,yAxisIndex:1,z:1,silent:true,clip:false,data:mbMinorTicks.map(v=>[v,chiMin]),
   renderItem:(params,api)=>{const p=api.coord([api.value(0),api.value(1)]);return {type:'line',shape:{x1:p[0],y1:p[1],x2:p[0],y2:p[1]+15},style:{stroke:'#000',lineWidth:3}};}}
 ]
};
echarts.init(document.getElementById('c'),null,{renderer:'canvas'}).setOption(option);
</script></body></html>
